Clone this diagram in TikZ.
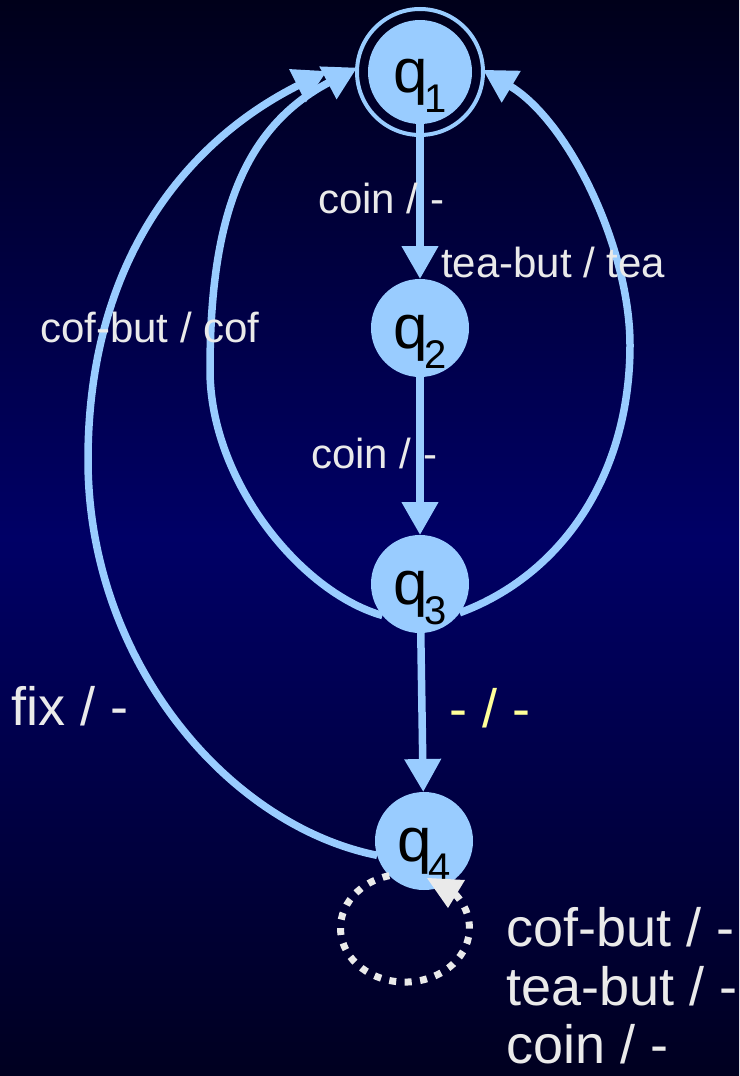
\documentclass[tikz,border=0pt]{standalone}
\usepackage{fontspec}
\setmainfont{Liberation Sans}
\usetikzlibrary{arrows.meta}
\definecolor{nodeblue}{HTML}{99CCFF}
\definecolor{labgrey}{HTML}{EAEAEA}
\definecolor{labyellow}{HTML}{FFFF99}
\definecolor{bgtop}{HTML}{00001A}
\definecolor{bgmid}{HTML}{000066}
\definecolor{bgbot}{HTML}{000020}
\newcommand\statelabel[1]{\fontsize{62}{62}\selectfont q\kern-3pt\raisebox{-20pt}{\fontsize{40}{40}\selectfont #1}}
\begin{document}
\begin{tikzpicture}[x=1pt,y=-1pt,
  state/.style={circle, fill=nodeblue, minimum size=98pt, inner sep=0pt, outer sep=0pt,
    text height=50pt, text depth=10pt, text=black},
  accept/.style={circle, draw=nodeblue, line width=4pt, minimum size=126pt, inner sep=0pt,
    outer sep=0pt, text height=50pt, text depth=10pt, text=black,
    path picture={\fill[nodeblue] (path picture bounding box.center) circle (52pt);}},
  edge/.style={draw=nodeblue, line width=7.5pt, -{Triangle[length=33pt,width=35pt]}},
  lab/.style={text=labgrey, inner sep=0pt, anchor=base west, font=\fontsize{42}{50}\selectfont},
  biglab/.style={lab, font=\fontsize{54}{62}\selectfont},
  selfloop/.style={draw=labgrey, line width=7pt, dash pattern=on 7pt off 8.5pt},
]
\shade[top color=bgtop, bottom color=bgbot, middle color=bgmid] (0,0) rectangle (739,1076);
\useasboundingbox (0,0) rectangle (739,1076);

\node[accept] (q1) at (420,72) {\statelabel{1}};
\node[state] (q2) at (420,328) {\statelabel{2}};
\node[state] (q3) at (420,584) {\statelabel{3}};
\node[state] (q4) at (424,841) {\statelabel{4}};
\coordinate (t4) at (327,71);

\draw[edge, shorten <=52pt] (q1.center) -- (q2);
\draw[edge] (q2) -- (q3);
\draw[edge] (q3) -- (q4);
\draw[edge] (q3.220) .. controls (300,592) and (210,480) .. (210,370)
  .. controls (210,220) and (242,128) .. (q1.176);
\draw[edge] (q3.-36) .. controls (562,575) and (630,475) .. (630,345)
  .. controls (630,250) and (570,122) .. (q1.2);
\draw[edge] (q4.197) .. controls (227,825) and (88,660) .. (88,460)
  .. controls (88,260) and (187,141) .. (t4);
\draw[selfloop] (q4.225) arc[start angle=104, end angle=400, x radius=64.5pt, y radius=54pt];
\fill[labgrey] (427,878) -- (465,880) -- (448,908) -- cycle;

\node[lab] (l12) at (318,213) {coin / -};
\node[lab] (ltea) at (441,277) {tea-but / tea};
\node[lab] (lcof) at (40,342) {cof-but / cof};
\node[lab] (l23) at (311,468) {coin / -};
\node[biglab] (lfix) at (11,725) {fix / -};
\node[biglab, text=labyellow] (l34) at (449,727) {- / -};
\node[biglab] (ls1) at (506,946) {cof-but / -};
\node[biglab] (ls2) at (506,1005) {tea-but / -};
\node[biglab] (ls3) at (506,1063) {coin / -};
\end{tikzpicture}
\end{document}
